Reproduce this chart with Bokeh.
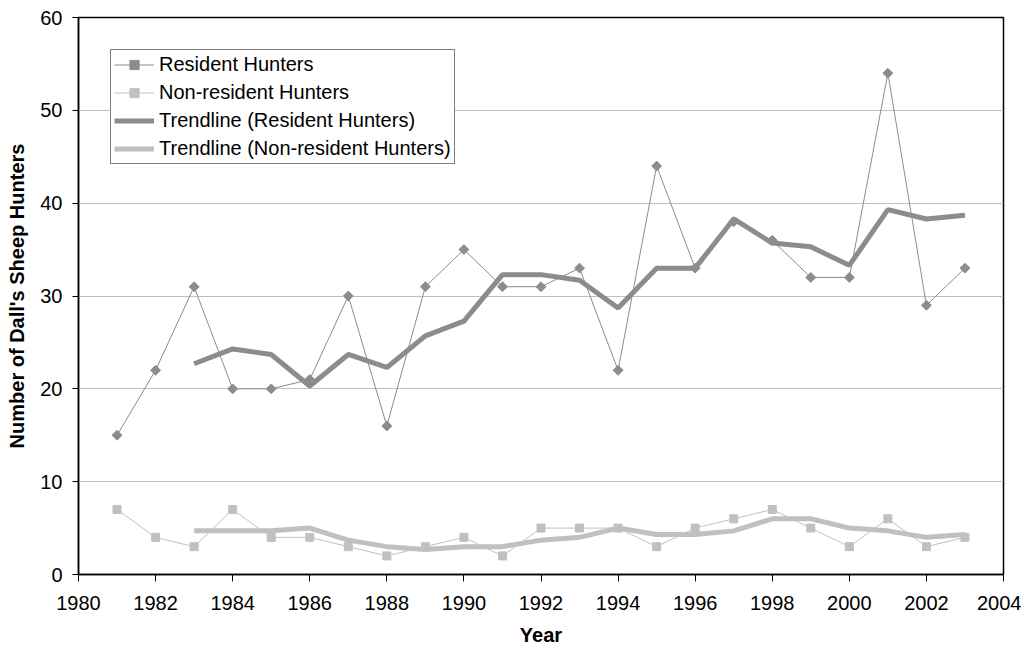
import numpy as np
from bokeh.plotting import figure
from bokeh.models import FixedTicker, Range1d, Legend, LegendItem
from bokeh.embed import file_html
from bokeh.resources import INLINE

years = [1981, 1982, 1983, 1984, 1985, 1986, 1987, 1988, 1989, 1990, 1991, 1992,
         1993, 1994, 1995, 1996, 1997, 1998, 1999, 2000, 2001, 2002, 2003]
resident = [15, 22, 31, 20, 20, 21, 30, 16, 31, 35, 31, 31,
            33, 22, 44, 33, 38, 36, 32, 32, 54, 29, 33]
nonresident = [7, 4, 3, 7, 4, 4, 3, 2, 3, 4, 2, 5,
               5, 5, 3, 5, 6, 7, 5, 3, 6, 3, 4]
trend_years = [1983, 1984, 1985, 1986, 1987, 1988, 1989, 1990, 1991, 1992, 1993,
               1994, 1995, 1996, 1997, 1998, 1999, 2000, 2001, 2002, 2003]
trend_resident = [22.7, 24.3, 23.7, 20.3, 23.7, 22.3, 25.7, 27.3, 32.3, 32.3, 31.7,
                  28.7, 33.0, 33.0, 38.3, 35.7, 35.3, 33.3, 39.3, 38.3, 38.7]
trend_nonresident = [4.7, 4.7, 4.7, 5.0, 3.7, 3.0, 2.7, 3.0, 3.0, 3.7, 4.0,
                     5.0, 4.3, 4.3, 4.7, 6.0, 6.0, 5.0, 4.7, 4.0, 4.3]
x_ticks = list(range(1980, 2005, 2))
y_ticks = [0, 10, 20, 30, 40, 50, 60]

FONT = "Liberation Sans"
RES_C = "#8c8c8c"
NON_C = "#c0c0c0"

p = figure(width=1021, height=648, output_backend="svg", toolbar_location=None,
           x_range=Range1d(1980, 2004), y_range=Range1d(0, 60),
           min_border_left=78, min_border_right=18, min_border_top=17, min_border_bottom=65)

p.background_fill_color = "white"
p.border_fill_color = "white"
p.outline_line_color = "black"
p.outline_line_width = 1.5

r1 = p.line(years, resident, line_color=RES_C, line_width=1)
r1s = p.scatter(years, resident, marker="square", angle=np.pi / 4, size=7,
                fill_color=RES_C, line_color=RES_C)
r2 = p.line(years, nonresident, line_color=NON_C, line_width=1)
r2s = p.scatter(years, nonresident, marker="square", size=8,
                fill_color=NON_C, line_color=NON_C)
r3 = p.line(trend_years, trend_resident, line_color=RES_C, line_width=5)
r4 = p.line(trend_years, trend_nonresident, line_color=NON_C, line_width=5)

legend = Legend(items=[
    LegendItem(label="Resident Hunters", renderers=[r1, r1s]),
    LegendItem(label="Non-resident Hunters", renderers=[r2, r2s]),
    LegendItem(label="Trendline (Resident Hunters)", renderers=[r3]),
    LegendItem(label="Trendline (Non-resident Hunters)", renderers=[r4]),
], location="top_left")
legend.margin = 32
legend.padding = 3
legend.spacing = 5
legend.glyph_width = 40
legend.glyph_height = 23
legend.label_height = 23
legend.label_standoff = 5
legend.label_text_font = FONT
legend.label_text_font_size = "20px"
legend.label_text_color = "black"
legend.border_line_color = "black"
legend.border_line_width = 1
legend.background_fill_color = "white"
legend.background_fill_alpha = 1
p.add_layout(legend)

p.xgrid.visible = False
p.ygrid.grid_line_color = "#c0c0c0"
p.ygrid.grid_line_width = 1
p.ygrid.ticker = FixedTicker(ticks=y_ticks)

p.xaxis.ticker = FixedTicker(ticks=x_ticks)
p.yaxis.ticker = FixedTicker(ticks=y_ticks)
for ax in (p.xaxis[0], p.yaxis[0]):
    ax.axis_line_color = "black"
    ax.axis_line_width = 1.5
    ax.major_tick_line_color = "black"
    ax.major_tick_line_width = 1
    ax.major_tick_in = 0
    ax.minor_tick_line_color = None
    ax.major_label_text_font = FONT
    ax.major_label_text_font_size = "20px"
    ax.major_label_text_color = "black"
    ax.axis_label_text_font = FONT
    ax.axis_label_text_font_size = "20px"
    ax.axis_label_text_font_style = "bold"
    ax.axis_label_text_color = "black"

p.xaxis.axis_label = "Year"
p.xaxis.major_tick_out = 7
p.xaxis.major_label_standoff = 14
p.xaxis.axis_label_standoff = 11
p.yaxis.axis_label = "Number of Dall's Sheep Hunters"
p.yaxis.major_tick_out = 6
p.yaxis.major_label_standoff = 10
p.yaxis.axis_label_standoff = 9

open("out.html", "w").write(file_html(p, INLINE))
